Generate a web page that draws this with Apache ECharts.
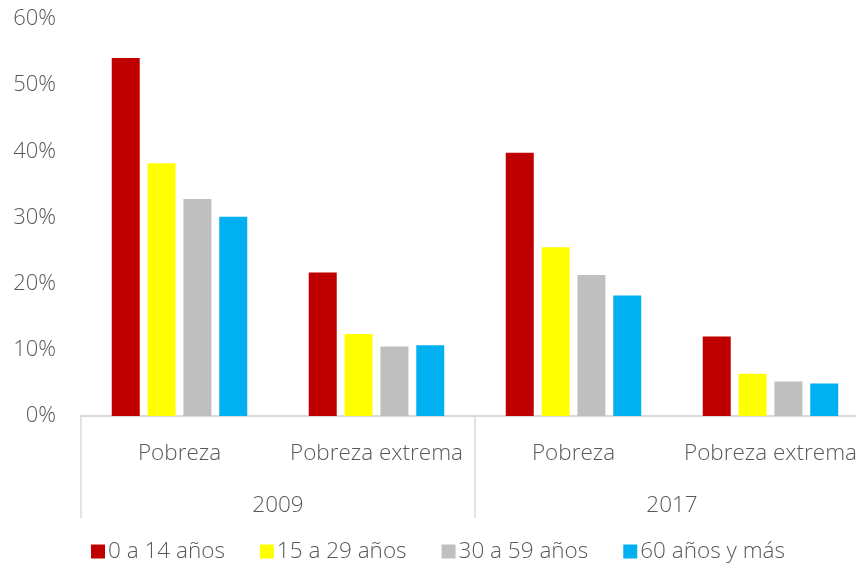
<!DOCTYPE html>
<html>
<head>
<meta charset="utf-8">
<script src="https://cdn.jsdelivr.net/npm/echarts@6/dist/echarts.min.js"></script>
<style>
  html, body { margin: 0; padding: 0; background: #fff; }
  #chart { width: 856px; height: 565px; }
</style>
</head>
<body>
<div id="chart"></div>
<script>
// categorias (dos niveles)
const groups = ['Pobreza', 'Pobreza extrema', 'Pobreza', 'Pobreza extrema'];
const years = ['2009', '2017'];
const seriesNames = ['0 a 14 años', '15 a 29 años', '30 a 59 años', '60 años y más'];
const colors = ['#c00000', '#ffff00', '#bfbfbf', '#00b0f0'];

// valores en %
const age0to14 = [54.1, 21.7, 39.8, 12.0];
const age15to29 = [38.2, 12.4, 25.5, 6.4];
const age30to59 = [32.8, 10.5, 21.3, 5.2];
const age60plus = [30.1, 10.7, 18.2, 4.9];
const yTicks = [0, 10, 20, 30, 40, 50, 60];

const values = [age0to14, age15to29, age30to59, age60plus];
const txt = '#595959';
const font = 'Open Sans';

const chart = echarts.init(document.getElementById('chart'));
chart.setOption({
  animation: false,
  textStyle: { fontFamily: font },
  grid: { left: 81, top: 19, bottom: 149, width: 788, outerBoundsMode: 'none' },
  legend: {
    bottom: -3,
    left: 86,
    itemWidth: 14,
    itemHeight: 14,
    itemGap: 35,
    icon: 'rect',
    textStyle: { color: txt, fontSize: 22.5, fontWeight: 300, fontFamily: font, padding: [0, 0, 0, -2] },
    data: seriesNames
  },
  xAxis: [
    {
      type: 'category',
      data: groups,
      axisLine: { lineStyle: { color: '#d9d9d9', width: 2 } },
      axisTick: { show: false },
      axisLabel: { color: txt, fontSize: 22.5, fontWeight: 300, margin: 26, interval: 0, fontFamily: font }
    },
    {
      type: 'category',
      position: 'bottom',
      data: years,
      axisLine: { show: false },
      axisTick: { show: true, length: 102, lineStyle: { color: '#d9d9d9', width: 1.5 } },
      axisLabel: { color: txt, fontSize: 22.5, fontWeight: 300, margin: 78, fontFamily: font }
    }
  ],
  yAxis: {
    type: 'value',
    min: yTicks[0],
    max: yTicks[yTicks.length - 1],
    interval: 10,
    splitLine: { show: false },
    axisLine: { show: false },
    axisLabel: { color: txt, fontSize: 22, fontWeight: 300, margin: 25, formatter: '{value}%', fontFamily: font }
  },
  series: seriesNames.map((name, i) => ({
    name: name,
    type: 'bar',
    xAxisIndex: 0,
    data: values[i],
    barWidth: 28,
    barGap: '28%',
    itemStyle: { color: colors[i] }
  }))
});
</script>
</body>
</html>
